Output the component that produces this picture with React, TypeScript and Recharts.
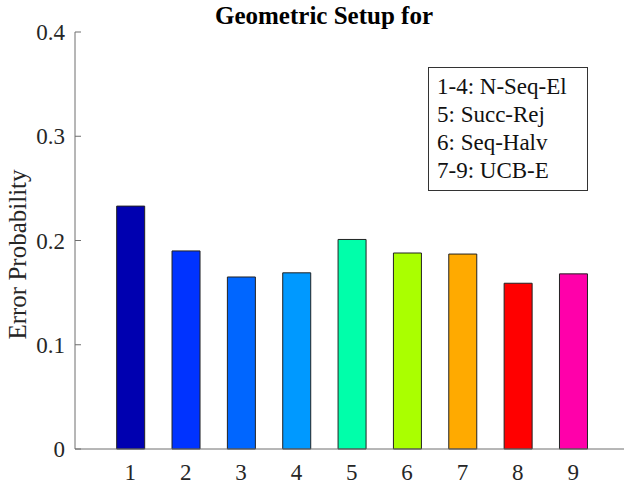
import React from 'react';
import { BarChart, Bar, XAxis, YAxis, Cell } from 'recharts';

const categories = [1, 2, 3, 4, 5, 6, 7, 8, 9];
const errorProbability = [0.233, 0.19, 0.165, 0.169, 0.201, 0.188, 0.187, 0.159, 0.168];
const barColors = ['#0000B0', '#0033FF', '#0066FF', '#0099FF', '#00FFAA', '#AAFF00', '#FFAA00', '#FF0000', '#FF00AA'];
const yTicks = [0, 0.1, 0.2, 0.3, 0.4];
const legendLines = ['1-4: N-Seq-El', '5: Succ-Rej', '6: Seq-Halv', '7-9: UCB-E'];
const titleText = 'Geometric Setup for';
const yLabelText = 'Error Probability';

const data = categories.map((c, i) => ({ cat: c, value: errorProbability[i] }));

const FONT = '"Liberation Serif", "Times New Roman", serif';
const TEXT = '#262626';
const AXIS = '#6e6e6e';

const YTick = (props: any) => {
  const { x, y, payload } = props;
  const label = payload.value === 0 ? '0' : String(payload.value);
  return (
    <g>
      <line x1={x} x2={x + 6} y1={y} y2={y} stroke={AXIS} strokeWidth={1} />
      <text x={x - 10} y={y + 8} textAnchor="end" fontFamily={FONT} fontSize={23} fill={TEXT}>
        {label}
      </text>
    </g>
  );
};

const XTick = (props: any) => {
  const { x, y, payload } = props;
  return (
    <text x={x} y={y + 31} textAnchor="middle" fontFamily={FONT} fontSize={23} fill={TEXT}>
      {payload.value}
    </text>
  );
};

const YLabel = (props: any) => {
  const { viewBox } = props;
  const cx = 17;
  const cy = viewBox.y + viewBox.height / 2 + 14;
  return (
    <text
      x={cx}
      y={cy}
      transform={`rotate(-90, ${cx}, ${cy})`}
      textAnchor="middle"
      dominantBaseline="central"
      fontFamily={FONT}
      fontSize={25}
      fill={TEXT}
    >
      {yLabelText}
    </text>
  );
};

export default function App() {
  return (
    <div style={{ position: 'absolute', left: 0, top: 0, width: 624, height: 485, overflow: 'hidden', background: '#fff' }}>
      <BarChart
        width={640}
        height={485}
        data={data}
        margin={{ top: 32, right: 11.5, bottom: 6, left: 0 }}
      >
        <XAxis
          dataKey="cat"
          type="number"
          domain={[0, 10]}
          ticks={categories}
          interval={0}
          height={30}
          tickSize={0}
          tickMargin={0}
          tickLine={false}
          axisLine={{ stroke: AXIS, strokeWidth: 1 }}
          tick={<XTick />}
        />
        <YAxis
          type="number"
          domain={[0, 0.4]}
          ticks={yTicks}
          interval={0}
          width={75}
          tickSize={0}
          tickMargin={0}
          tickLine={false}
          axisLine={{ stroke: AXIS, strokeWidth: 1 }}
          tick={<YTick />}
          label={<YLabel />}
        />
        <Bar dataKey="value" barSize={28} stroke="#222" strokeWidth={1} isAnimationActive={false}>
          {data.map((d, i) => (
            <Cell key={d.cat} fill={barColors[i]} />
          ))}
        </Bar>
      </BarChart>
      <div
        style={{
          position: 'absolute',
          left: 0,
          width: 648,
          top: 3,
          textAlign: 'center',
          fontFamily: FONT,
          fontWeight: 'bold',
          fontSize: 25,
          lineHeight: '25px',
          color: '#000',
        }}
      >
        {titleText}
      </div>
      <div
        style={{
          position: 'absolute',
          left: 428,
          top: 67,
          border: '1px solid #333',
          background: '#fff',
          padding: '5px 8px',
          width: 142,
          fontFamily: FONT,
          fontSize: 23,
          lineHeight: '28px',
          color: '#111',
        }}
      >
        {legendLines.map((l) => (
          <div key={l} style={{ whiteSpace: 'nowrap' }}>{l}</div>
        ))}
      </div>
    </div>
  );
}
